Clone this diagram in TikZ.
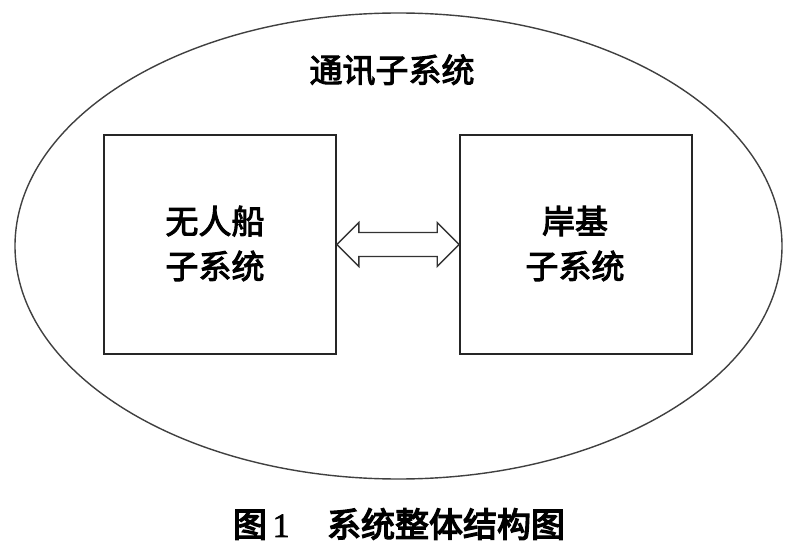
\documentclass[tikz,border=0pt]{standalone}
\usetikzlibrary{shapes.geometric,calc}
\usepackage{fontspec}
\newfontfamily\cjk[FakeBold=3]{Noto Sans CJK SC}
\newfontfamily\cjkcap[FakeBold=4]{Noto Sans CJK SC}
\newfontfamily\capnum[FakeBold=2]{Liberation Serif}
\begin{document}
\begin{tikzpicture}[x=1pt,y=-1pt,
  sysbox/.style={draw=black!85,line width=1.6pt,minimum width=232pt,minimum height=219pt,inner sep=0pt},
  lbl/.style={font=\cjk\fontsize{33}{45}\selectfont,align=center},
  captext/.style={font=\cjkcap\fontsize{34}{40}\selectfont},
  outline/.style={draw=black!80,line width=1.4pt}]
\useasboundingbox (0,0) rectangle (800,556);
\node[draw=black!75,line width=1.4pt,ellipse,minimum width=767pt,minimum height=466pt,inner sep=0pt] (comm) at (398.5,246) {};
\node[lbl] (commlbl) at (392,70) {通讯子系统};
\node[sysbox] (usv) at (220,244.5) {};
\node[sysbox] (shore) at (576,244.5) {};
\node[lbl] (usvlbl) at (215,243.5) {无人船\\子系统};
\node[lbl] (shorelbl) at (575,243.5) {岸基\\子系统};
\coordinate (lt) at (usv.east);
\coordinate (rt) at (shore.west);
\draw[outline,line join=miter]
  (lt) -- ++(22,-22) -- ++(0,10) -- ($(rt)+(-22,-12)$) -- ++(0,-10) -- (rt)
  -- ++(-22,22) -- ++(0,-10) -- ($(lt)+(22,12)$) -- ++(0,10) -- cycle;
\node[captext] (caption) at (399,524) {图{\capnum\,1}\hspace{1.1em}系统整体结构图};
\end{tikzpicture}
\end{document}
